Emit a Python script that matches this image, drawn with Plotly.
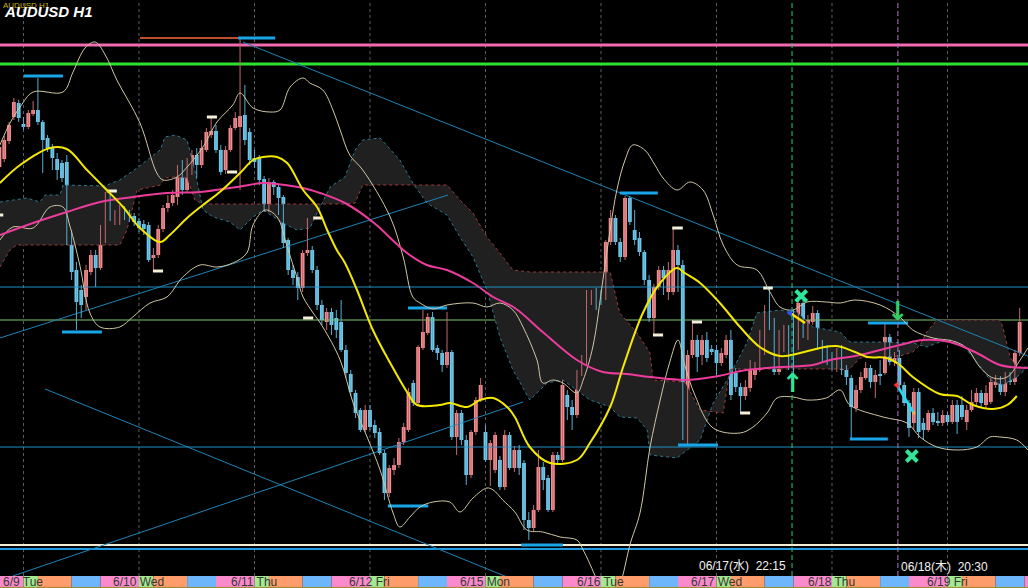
import plotly.graph_objects as go

PIP = 1e-4  # prices below are in pips (price * 10000)

# ---------------- candle data (H1, index 0 = 6/8 19:00) ----------------
OPEN = [
    6999.5, 7003.5, 7012.5, 7024.5, 7031.5, 7021, 7019.5, 7026, 7028, 7022,
    7014, 7009.5, 7003.5, 7001.5, 7002, 6964, 6948, 6938, 6934.5, 6947,
    6955.5, 6949, 6969, 6984.5, 6974.5, 6974, 6978, 6976.5, 6975, 6972.5,
    6971, 6970.5, 6954, 6955.5, 6968.5, 6979, 6981.5, 6984.5, 7000.5, 6988,
    7000.5, 7005.5, 7000.5, 7008, 7015.5, 7017.5, 7008, 6998, 7008, 7019,
    7019.5, 7025.5, 7017, 7004, 7004, 6993.5, 6979, 6992, 6989.5, 6984.5,
    6963, 6948, 6944.5, 6939, 6956.5, 6958, 6948, 6930.5, 6922, 6927,
    6924, 6922, 6908, 6896, 6886.5, 6878, 6868, 6878, 6870.5, 6867,
    6856.5, 6836.5, 6848, 6850.5, 6862, 6868, 6891.5, 6881.5, 6909, 6916.5,
    6924.5, 6909, 6906.5, 6900.5, 6907, 6864.5, 6876.5, 6863, 6845.5, 6867,
    6883, 6867, 6853, 6848, 6853, 6839.5, 6865.5, 6849, 6858, 6851.5,
    6823, 6819, 6828, 6849.5, 6844, 6828, 6855.5, 6853, 6885.5, 6879.5,
    6875.5, 6896.5, 6901.5, 6932, 6935.5, 6935.5, 6934, 6962, 6974, 6962,
    6954.5, 6984, 6968, 6964, 6957, 6943, 6924, 6939.5, 6948, 6937,
    6937, 6958, 6950.5, 6869.5, 6905.5, 6913, 6905.5, 6913, 6908.5, 6908,
    6901.5, 6905.5, 6913, 6896.5, 6889.5, 6885, 6889, 6895.5, 6898, 6907,
    6923, 6920.5, 6897, 6908, 6912, 6912, 6909, 6931.5, 6915.5, 6922,
    6926.5, 6909.5, 6908, 6904, 6902, 6906.5, 6898, 6894, 6879, 6888,
    6894, 6899, 6892, 6896, 6896.5, 6914.5, 6902, 6904, 6890.5, 6881.5,
    6871.5, 6887, 6871.5, 6868, 6876.5, 6872.5, 6871.5, 6875.5, 6872, 6880.5,
    6880.5, 6872, 6878, 6882, 6886.5, 6880.5, 6882, 6890.5, 6893, 6887,
    6894.5, 6892, 6906.5,
]
CLOSE = [
    7009.5, 7013, 7020.5, 7032, 7024, 7019.5, 7026.5, 7028, 7022, 7013,
    7009, 7004, 6998, 6994, 6963, 6947, 6932, 6930.5, 6948, 6955.5,
    6949, 6968.5, 6985.5, 6974, 6976.5, 6978, 6976.5, 6974, 6972, 6969,
    6968.5, 6953, 6955.5, 6968.5, 6979, 6981.5, 6985.5, 6998, 6988, 7002,
    7005.5, 7000.5, 7009, 7017, 7017.5, 7008, 6997, 7008, 7019, 7024,
    7025, 7013, 7003, 7002, 6993, 6979.5, 6992, 6989.5, 6984, 6961.5,
    6948, 6944, 6939, 6956.5, 6958, 6948, 6930.5, 6923, 6927, 6920.5,
    6918, 6908, 6896.5, 6887, 6876.5, 6868, 6878, 6869.5, 6866.5, 6856.5,
    6836.5, 6849, 6850.5, 6862, 6869.5, 6887, 6881.5, 6909.5, 6917, 6924.5,
    6908, 6906.5, 6900.5, 6907, 6864.5, 6876.5, 6863, 6845.5, 6867, 6883,
    6890.5, 6853, 6861.5, 6865.5, 6839.5, 6865.5, 6849, 6858, 6849, 6823,
    6819, 6828, 6849.5, 6843, 6828, 6855.5, 6853, 6890.5, 6879.5, 6875.5,
    6896.5, 6901.5, 6932, 6934.5, 6934, 6934, 6962, 6974, 6962, 6954.5,
    6984, 6972, 6963, 6957, 6943, 6924, 6939.5, 6948, 6944, 6948,
    6958, 6950.5, 6870.5, 6905.5, 6913, 6904.5, 6913, 6904, 6907, 6901.5,
    6906.5, 6913, 6885.5, 6889.5, 6885, 6889.5, 6899.5, 6899.5, 6914.5, 6923,
    6920.5, 6897, 6914, 6914.5, 6907, 6909, 6931.5, 6915.5, 6923, 6926.5,
    6909, 6904, 6903, 6902.5, 6906.5, 6898, 6894.5, 6879.5, 6888, 6894.5,
    6899, 6892, 6895.5, 6895, 6914.5, 6902, 6904, 6890.5, 6881.5, 6869,
    6887, 6867, 6868, 6876.5, 6872, 6871.5, 6875.5, 6872, 6880.5, 6872,
    6874.5, 6878, 6882, 6886.5, 6881.5, 6886.5, 6892, 6893, 6887, 6894.5,
    6892, 6906.5, 6922,
]
HIGH = [
    7011, 7015, 7022, 7034, 7033, 7024.5, 7028, 7032.5, 7044, 7023,
    7015.5, 7011, 7006.5, 7003, 7005.5, 6968, 6952, 6940.5, 6950.5, 6958,
    6958, 6970.5, 6987, 6986.5, 6978, 6980.5, 6980, 6978, 6976.5, 6974,
    6973, 6972, 6959, 6970.5, 6980.5, 6985.5, 6988, 7000.5, 7003, 7004,
    7008, 7009, 7013, 7019, 7024.5, 7020.5, 7010.5, 7010, 7020.5, 7027,
    7064, 7040.5, 7019, 7008, 7005.5, 6995, 6994, 6993, 6990.5, 6985.5,
    6964, 6950.5, 6947, 6958, 6974, 6960, 6950, 6933, 6929, 6929,
    6928, 6933, 6910.5, 6898, 6888, 6879, 6880.5, 6880.5, 6873, 6869,
    6858, 6850.5, 6854, 6864, 6871.5, 6889, 6893, 6910.5, 6928, 6926.5,
    6927, 6910.5, 6908, 6927, 6908, 6878, 6878, 6865.5, 6868, 6884.5,
    6894, 6870.5, 6863, 6867, 6855, 6868, 6867, 6860, 6860.5, 6853,
    6827, 6830.5, 6858, 6852, 6845.5, 6857, 6857, 6893, 6888, 6883,
    6898, 6905.5, 6938, 6938, 6939, 6938, 6963, 6978, 6975.5, 6964,
    6985, 6985, 6978, 6967, 6958, 6945.5, 6941, 6950, 6950, 6952,
    6969, 6960.5, 6953, 6908, 6923, 6915.5, 6915.5, 6917, 6910.5, 6910.5,
    6909, 6915.5, 6918, 6899, 6891.5, 6893, 6903, 6902, 6918, 6930.5,
    6939, 6924, 6918, 6920.5, 6920.5, 6928, 6934, 6933, 6925.5, 6930,
    6928, 6913, 6910.5, 6907, 6909, 6910.5, 6900.5, 6895.5, 6890.5, 6897,
    6902, 6900.5, 6898, 6903, 6921.5, 6916, 6907, 6908, 6892, 6883,
    6889, 6889, 6874, 6878, 6879, 6877, 6878, 6877, 6883, 6883,
    6885, 6880.5, 6888, 6889, 6888, 6890.5, 6894, 6895.5, 6895, 6897,
    6897, 6908, 6929,
]
LOW = [
    6998, 7002, 7011, 7023, 7022, 7018, 7018.5, 7025, 7020.5, 6996.5,
    7007, 6998, 6993, 6992, 6960.5, 6943, 6918, 6924, 6928, 6945.5,
    6939.5, 6948, 6961.5, 6972.5, 6970.5, 6970.5, 6973, 6972, 6970, 6967,
    6965.5, 6952, 6948, 6954, 6967, 6977, 6980, 6980.5, 6985.5, 6987,
    6995.5, 6994, 6999, 7007, 7014, 7006.5, 6995.5, 6996, 7007, 7018,
    6988, 7010.5, 7000.5, 6999, 6990.5, 6977, 6977, 6985.5, 6975.5, 6959,
    6945.5, 6940.5, 6933, 6937, 6955, 6946.5, 6928, 6920.5, 6918, 6915.5,
    6914, 6907, 6894, 6885, 6874, 6867, 6867, 6868, 6864, 6855.5,
    6833, 6834.5, 6845.5, 6849, 6860.5, 6867, 6880, 6880.5, 6908, 6915.5,
    6907, 6903, 6897, 6899, 6863, 6855.5, 6860.5, 6840.5, 6844, 6865.5,
    6882, 6852, 6840, 6846.5, 6838, 6838, 6848, 6847, 6845.5, 6818,
    6813, 6817, 6827, 6838, 6827, 6827, 6850.5, 6852, 6873, 6868,
    6874, 6895, 6900.5, 6930.5, 6928, 6930.5, 6933, 6960.5, 6960.5, 6952,
    6953, 6970.5, 6960.5, 6955, 6940.5, 6922, 6915.5, 6938, 6935.5, 6933,
    6935.5, 6937, 6863, 6860.5, 6904, 6897, 6900.5, 6902, 6905.5, 6895.5,
    6900, 6904, 6883, 6887, 6877, 6883, 6887, 6893, 6897, 6905.5,
    6918, 6895.5, 6895.5, 6907, 6898, 6890.5, 6908, 6914, 6913, 6920.5,
    6908, 6902, 6900.5, 6898, 6897, 6895.5, 6890.5, 6864, 6877, 6886.5,
    6893, 6889, 6884, 6890.5, 6895.5, 6900.5, 6900, 6888, 6880, 6864.5,
    6868, 6864, 6863, 6867, 6870.5, 6870, 6870, 6870.5, 6871, 6866,
    6873, 6868, 6877, 6880.5, 6879, 6879, 6881, 6889, 6885.5, 6885,
    6890.5, 6890.5, 6905,
]

# ---------------- indicator readings (x = candle index, y = pips) ----------------
MA_FAST_X = [0.1, 4.3, 10.5, 14, 18.2, 22.3, 25.7, 29.2, 33.4, 35.4, 39, 42.3, 45.8, 50, 52.7,
             54.8, 57.7, 59.8, 63.1, 66, 68.1, 70.1, 71.8, 74.3, 77.6, 81.2, 84.7, 86.8, 91.5,
             93.6, 97.2, 99.9, 102.6, 105.5, 107.1, 110.2, 114.4, 120, 122.7, 126.9, 129.6,
             133.7, 137.3, 140.8, 142.4, 145.6, 149.7, 153.9, 158, 162.2, 166.4, 170.5, 174,
             177.8, 180.3, 184.4, 187.1, 189.8, 195.4, 199, 202.3, 206.5, 209.4, 211.4]
MA_FAST = [6991.5, 7000.5, 7009, 7008.5, 6998, 6988, 6979.5, 6969, 6962, 6965.5, 6974, 6980.5,
           6987, 6996.5, 7003, 7004.5, 7004.5, 7001.5, 6988, 6979.5, 6968, 6958, 6951.5, 6938,
           6918, 6901.5, 6887, 6880.5, 6880.5, 6881.5, 6879.5, 6883, 6884, 6879.5, 6874.5,
           6859.5, 6851.5, 6853, 6861.5, 6879.5, 6899.5, 6926.5, 6941.5, 6949, 6946.5, 6941.5,
           6931.5, 6919.5, 6909.5, 6905, 6906.5, 6909, 6910, 6907, 6904.5, 6904, 6900.5,
           6894.5, 6886, 6885, 6880.5, 6878.5, 6880.5, 6885]

MA_SLOW_X = [0.1, 7, 14, 20.9, 27.7, 34.8, 41.7, 49.4, 54.8, 57.7, 63.1, 66.6, 71.8, 77.6, 84.7,
             88.8, 93, 98.4, 102.6, 107.1, 112.9, 120, 125.4, 130.4, 135.2, 142.4, 148.3, 155.3,
             162.2, 169, 172.6, 177.8, 187.1, 191.9, 197.5, 203.1, 207.9, 213.7]
MA_SLOW = [6965.5, 6971.5, 6977, 6982, 6984.5, 6986.5, 6987, 6989.5, 6991.5, 6991, 6989, 6986.5,
           6981.5, 6972, 6956.5, 6950.5, 6948, 6941.5, 6934.5, 6929, 6917, 6903, 6897, 6896,
           6894.5, 6893, 6894.5, 6898, 6899.5, 6900.5, 6903, 6905, 6910.5, 6913, 6912, 6906.5,
           6900.5, 6899]

BB_UPPER_X = [0.1, 2.2, 4.3, 7, 13.2, 15.3, 17.8, 19.9, 22, 24.4, 29.2, 32.7, 34, 36.9, 39, 42.3,
              45.2, 48.5, 50, 52.7, 56.2, 58.3, 60.4, 63.1, 64.5, 67.2, 69.3, 70.8, 72.8, 75.5,
              81.2, 83.9, 85.9, 87.4, 90.1, 93, 98.4, 101.3, 104, 106.7, 108.8, 111.7, 112.9,
              115, 117.1, 120, 121.3, 123.3, 125.4, 126.9, 128.3, 130, 131.6, 134.1, 136.2,
              137.9, 140.8, 143.5, 146.2, 148.3, 150.4, 153.3, 157.4, 160.1, 162.2, 164.9,
              167.8, 171.8, 174.7, 177.8, 183, 187.1, 189.8, 194, 198.1, 201, 203.7, 206.5,
              209.4, 212.1, 213.7]
BB_UPPER = [7010.5, 7021.5, 7029.5, 7037, 7037, 7047, 7059, 7062, 7055.5, 7043, 7021.5, 6996.5,
            6993, 6994.5, 6999.5, 7009.5, 7022, 7030.5, 7036.5, 7029, 7027, 7028, 7039.5, 7044,
            7041.5, 7038, 7028, 7018, 7005.5, 6998, 6974.5, 6954.5, 6934.5, 6931.5, 6928.5,
            6930.5, 6931.5, 6929.5, 6931.5, 6928, 6919.5, 6903, 6891.5, 6893, 6891.5, 6886.5,
            6893, 6909.5, 6943, 6968, 6988, 7003, 7010.5, 7008, 7000.5, 6994, 6988, 6992, 6988,
            6975.5, 6960.5, 6950.5, 6948, 6937, 6929.5, 6928, 6932, 6932, 6931.5, 6933, 6930.5,
            6924.5, 6918, 6914, 6912.5, 6909, 6899.5, 6894, 6894.5, 6903, 6909]

BB_LOWER_X = [0.1, 2.8, 7, 10.5, 13.2, 14.7, 16.7, 18.8, 20.9, 25, 27.7, 31.3, 34.8, 38.1, 41.7,
              45.2, 48.5, 51.4, 52.7, 55.2, 57.7, 59.8, 61.8, 63.1, 65.2, 67.2, 70.8, 73.5, 76.4,
              79.1, 81.8, 83.2, 85.3, 87.4, 90.1, 93.6, 95.7, 98.4, 101.3, 102.6, 104.6, 107.1,
              109.6, 112.9, 116.5, 120, 121.3, 123.7, 125.8, 127.9, 129.4, 131, 133.1, 135.2,
              137.3, 139.3, 141, 142.4, 144.5, 148.3, 153.9, 156.6, 159.5, 161.6, 164.9, 167.8,
              171.8, 174.7, 176.7, 183.6, 188.6, 191.3, 194.8, 199, 203.1, 205.8, 207.9, 211.4,
              213.7]
BB_LOWER = [6963, 6969.5, 6969, 6979.5, 6979.5, 6969.5, 6950.5, 6926.5, 6919.5, 6919.5, 6924.5,
            6931.5, 6934.5, 6944.5, 6950.5, 6949.5, 6951.5, 6956.5, 6970.5, 6978, 6974.5,
            6959.5, 6944.5, 6934.5, 6926.5, 6919.5, 6903, 6881.5, 6864.5, 6848, 6826.5, 6819.5,
            6824.5, 6829.5, 6832, 6832, 6827, 6834, 6839, 6838, 6833, 6827, 6818, 6817, 6814.5,
            6813, 6808, 6795.5, 6783, 6783, 6794, 6810.5, 6826.5, 6859.5, 6883, 6902, 6913,
            6900.5, 6885.5, 6869, 6866.5, 6869.5, 6876.5, 6884, 6884.5, 6883, 6884, 6888,
            6880.5, 6874.5, 6871.5, 6864.5, 6859.5, 6858, 6859.5, 6864.5, 6864.5, 6863, 6858]

SPAN_A_X = [0.1, 2.2, 3.6, 25, 26.5, 28.6, 30.7, 33.4, 34.4, 36.5, 39, 40.6, 42.3, 71.8, 73.9,
            75.5, 93, 95.7, 98.4, 101.3, 104, 106.7, 110.2, 126.9, 128.9, 132.5, 135.2, 135.8,
            142.4, 145.6, 150.4, 151.8, 176.7, 178.8, 187.1, 189.8, 191.3, 192.7, 194.8, 207.9,
            208.5, 210, 211.4, 213.7]
SPAN_A = [6949.5, 6958, 6960.5, 6960.5, 6968, 6988, 6989, 6990.5, 6994, 6994.5, 6994, 6983,
          6981, 6981, 6981.5, 6990.5, 6990.5, 6983, 6976.5, 6964.5, 6956.5, 6948, 6947, 6947,
          6926.5, 6916.5, 6906.5, 6893, 6892, 6878, 6876.5, 6898.5, 6898.5, 6904, 6905, 6907,
          6910.5, 6917, 6923, 6923, 6919.5, 6904.5, 6899.5, 6899.5]

SPAN_B_X = [0.1, 5.7, 8.4, 9.5, 12.6, 13.2, 21.9, 25, 26.5, 28.6, 30.7, 33.4, 34.4, 36.5, 39,
            40.6, 42.3, 44.4, 47.9, 50, 52.7, 54.8, 58.9, 61.8, 64.5, 68.7, 71.8, 73.9, 75.5,
            79.1, 83.2, 85.9, 88.8, 93, 95.7, 98.4, 101.3, 104, 106.7, 110.2, 113.8, 117.1,
            122.7, 126.9, 128.9, 132.5, 134.6, 135.2, 140.8, 145.6, 148.3, 151.2, 155.3, 157.4,
            162.2, 165.7, 169, 174.7, 176.7, 183, 189.8, 192.7, 194.8, 197.5, 200.2, 202.3,
            204.4, 205.8, 208.5, 211.4, 213.7]
SPAN_B = [6982, 6984, 6982, 6985.5, 6985.5, 6990.5, 6990, 6993, 6995.5, 6999, 7003, 7008,
          7014.5, 7015.5, 7013, 6998, 6978, 6974.5, 6972, 6968, 6974.5, 6978, 6971.5, 6968,
          6969, 6989.5, 6994.5, 7008, 7013, 7014, 7003, 6991.5, 6981.5, 6975.5, 6964.5,
          6954.5, 6938, 6914.5, 6898, 6883, 6891.5, 6893, 6883, 6879.5, 6874.5, 6874, 6868,
          6855.5, 6854, 6863, 6881.5, 6893, 6911.5, 6926.5, 6928, 6927, 6919.5, 6917, 6912,
          6912, 6911.5, 6909.5, 6911.5, 6913, 6910.5, 6904.5, 6898, 6893, 6890.5, 6894.5,
          6899.5]

# ---------------- horizontal levels (pips) ----------------
LEVEL_RESIST_PINK = 7060.5
LEVEL_RESIST_GREEN = 7051
LEVEL_MID_GREEN = 6923
LEVEL_BLUE = [6939.5, 6859.5]
LEVEL_FLOOR_CREAM = 6810.5
LEVEL_FLOOR_BLUE = 6808.5

# trend lines: (x0, y0, x1, y1) in candle index / pips
TRENDLINES = [
    (50.6, 7062, 213.7, 6905),
    (0.1, 6914, 93.2, 6985.5),
    (2.8, 6795, 108.8, 6882),
    (9.5, 6888.5, 105.5, 6794.5),
]

# swing markers: (x_start, x_end, level)
SWING_BLUE = [(5.1, 13.2, 7045), (13.0, 21.3, 6917), (49.6, 57.3, 7064), (80.7, 89.1, 6830),
              (84.9, 93.0, 6929), (108.4, 117.1, 6810.5), (128.9, 136.8, 6986.5),
              (141.0, 149.3, 6860.5), (176.7, 184.6, 6863.5), (180.5, 188.8, 6921.5)]
SWING_WHITE = [(0.1, 0.8, 6975.5), (22.3, 24.4, 6987.5), (31.9, 34.0, 6947.5),
               (43.1, 45.2, 7024.5), (47.3, 49.4, 6997), (63.1, 65.2, 6924), (65.2, 67.2, 6974),
               (135.8, 137.9, 6915.5), (139.8, 142.0, 6969), (143.9, 146.0, 6922),
               (153.9, 156.0, 6876.5), (158.7, 160.7, 6939)]
SWING_ORANGE = [(29.2, 52.1, 7064)]

# signals
EVENT_X = [164.7, 186.7]
EVENT_LABELS = ["06/17(水)  22:15", "06/18(木)  20:30"]
CROSS_X = [166.6, 189.6]
CROSS_Y = [6935, 6855]
UP_ARROW = (164.9, 6891.5)
DOWN_ARROW = (186.7, 6927.5)
YELLOW_SIG = ([164.3, 167.4], [6926.5, 6921.5])
CYAN_SIG = ([186.5, 190.0], [6890.5, 6876.5])

# date bar
DAY_STARTS = [5, 29, 53, 77, 101, 125, 149, 173, 197]
DAY_LABELS = ["6/9 Tue", "6/10 Wed", "6/11 Thu", "6/12 Fri", "6/15 Mon",
              "6/16 Tue", "6/17 Wed", "6/18 Thu", "6/19 Fri"]
SESSIONS = [(-8, 0), (0, 3), (3, 10), (10, 16)]  # hours relative to day start
SESSION_COLORS = ["#FA8ACB", "#A3E98F", "#FF9C6C", "#6DB6FC"]

# ---------------- build figure ----------------
def P(v):
    return [a * PIP for a in v]

X_LO, X_HI = 0.12, 213.73
XL, XR = -5, 220
BAR_H = 12 / 588

fig = go.Figure()

def hline(level, color, width):
    fig.add_trace(go.Scatter(x=[XL, XR], y=[level * PIP] * 2, mode="lines",
                             line=dict(color=color, width=width), hoverinfo="skip"))

hline(LEVEL_MID_GREEN, "#7CCB6A", 1)

# ichimoku cloud
fig.add_trace(go.Scatter(x=SPAN_B_X, y=P(SPAN_B), mode="lines",
                         line=dict(color="#2B7A93", width=1, dash="dot"), hoverinfo="skip"))
fig.add_trace(go.Scatter(x=SPAN_A_X, y=P(SPAN_A), mode="lines", fill="tonexty",
                         fillcolor="#202020",
                         line=dict(color="#A03A3A", width=1, dash="dot"), hoverinfo="skip"))

for lv in LEVEL_BLUE:
    hline(lv, "#1E8FC4", 1)
hline(LEVEL_RESIST_PINK, "#F26BB0", 3)
hline(LEVEL_RESIST_GREEN, "#2FE02F", 3)
hline(LEVEL_FLOOR_CREAM, "#F2ECD2", 2)
hline(LEVEL_FLOOR_BLUE, "#1E9BE0", 2)

for x0, y0, x1, y1 in TRENDLINES:
    fig.add_trace(go.Scatter(x=[x0, x1], y=[y0 * PIP, y1 * PIP], mode="lines",
                             line=dict(color="#1C84B6", width=1), hoverinfo="skip"))

def seg_trace(segs, color, width):
    xs, ys = [], []
    for a, b, lv in segs:
        xs += [a, b, None]
        ys += [lv * PIP, lv * PIP, None]
    fig.add_trace(go.Scatter(x=xs, y=ys, mode="lines", line=dict(color=color, width=width),
                             hoverinfo="skip"))

seg_trace(SWING_ORANGE, "#FF6A3D", 1.5)

# candles
idx = list(range(len(OPEN)))
assert len(OPEN) == len(CLOSE) == len(HIGH) == len(LOW)
up = [c >= o for o, c in zip(OPEN, CLOSE)]
for is_up, wick_col, body_col in [(True, "#C46A6E", "#F48C90"), (False, "#58AFD2", "#70C8E8")]:
    wx, wy, bx, bb, bh = [], [], [], [], []
    for i in idx:
        if up[i] != is_up:
            continue
        wx += [i, i, None]
        wy += [LOW[i] * PIP, HIGH[i] * PIP, None]
        lo = min(OPEN[i], CLOSE[i])
        hi = max(OPEN[i], CLOSE[i])
        bx.append(i)
        bb.append(lo * PIP)
        bh.append(max(hi - lo, 0.6) * PIP)
    fig.add_trace(go.Scatter(x=wx, y=wy, mode="lines", line=dict(color=wick_col, width=1),
                             hoverinfo="skip"))
    fig.add_trace(go.Bar(x=bx, y=bh, base=bb, width=0.8, marker=dict(color=body_col, line=dict(width=0)),
                         hoverinfo="skip"))

seg_trace(SWING_BLUE, "#18A6E8", 3)
seg_trace(SWING_WHITE, "#F4F0DA", 3)

# bollinger and moving averages
fig.add_trace(go.Scatter(x=BB_UPPER_X, y=P(BB_UPPER), mode="lines", line_shape="spline",
                         line=dict(color="#CFC6A4", width=1), hoverinfo="skip"))
fig.add_trace(go.Scatter(x=BB_LOWER_X, y=P(BB_LOWER), mode="lines", line_shape="spline",
                         line=dict(color="#CFC6A4", width=1), hoverinfo="skip"))
fig.add_trace(go.Scatter(x=MA_SLOW_X, y=P(MA_SLOW), mode="lines", line_shape="spline",
                         line=dict(color="#EC3C9C", width=2), hoverinfo="skip"))
fig.add_trace(go.Scatter(x=MA_FAST_X, y=P(MA_FAST), mode="lines", line_shape="spline",
                         line=dict(color="#F4E800", width=2), hoverinfo="skip"))

# signals
fig.add_trace(go.Scatter(x=YELLOW_SIG[0], y=P(YELLOW_SIG[1]), mode="lines",
                         line=dict(color="#FFE000", width=2.5), hoverinfo="skip"))
fig.add_trace(go.Scatter(x=[YELLOW_SIG[0][0]], y=[YELLOW_SIG[1][0] * PIP], mode="markers",
                         marker=dict(symbol="triangle-left", size=7, color="#2F4FFF"), hoverinfo="skip"))
fig.add_trace(go.Scatter(x=CYAN_SIG[0], y=P(CYAN_SIG[1]), mode="lines",
                         line=dict(color="#22DDF2", width=2.5), hoverinfo="skip"))
fig.add_trace(go.Scatter(x=[CYAN_SIG[0][0]], y=[CYAN_SIG[1][0] * PIP], mode="markers",
                         marker=dict(symbol="triangle-left", size=7, color="#FF3030"), hoverinfo="skip"))
fig.add_trace(go.Scatter(x=[CYAN_SIG[0][1]], y=[CYAN_SIG[1][1] * PIP], mode="markers",
                         marker=dict(symbol="square", size=3, color="#FFB040"), hoverinfo="skip"))
fig.add_trace(go.Scatter(x=CROSS_X, y=P(CROSS_Y), mode="markers",
                         marker=dict(symbol="x-thin", size=11, line=dict(color="#2FE59A", width=4)),
                         hoverinfo="skip"))

shapes = []
# day separators
for d in DAY_STARTS:
    shapes.append(dict(type="line", xref="x", yref="paper", x0=d, x1=d, y0=BAR_H, y1=1,
                       line=dict(color="#5E5E5E", width=1, dash="3px,3px"), layer="below"))
# event lines
shapes.append(dict(type="line", xref="x", yref="paper", x0=EVENT_X[0], x1=EVENT_X[0], y0=BAR_H, y1=1,
                   line=dict(color="#2BCB72", width=1, dash="5px,3px"), layer="above"))
shapes.append(dict(type="line", xref="x", yref="paper", x0=EVENT_X[1], x1=EVENT_X[1], y0=BAR_H, y1=1,
                   line=dict(color="#A77BC4", width=1, dash="5px,3px"), layer="above"))
# session bar
day_list = DAY_STARTS + [DAY_STARTS[-1] + 24]
for n, d in enumerate(day_list):
    for (a, b), col in zip(SESSIONS, SESSION_COLORS):
        if n == len(day_list) - 1 and a >= 0:
            continue
        shapes.append(dict(type="rect", xref="x", yref="paper", x0=d + a, x1=d + b,
                           y0=0, y1=BAR_H, fillcolor=col, line=dict(width=0), layer="above"))
shapes.append(dict(type="line", xref="paper", yref="paper", x0=0, x1=1, y0=0.001, y1=0.001,
                   line=dict(color="#9C8A2A", width=1), layer="above"))

annotations = []
for d, lab in zip(DAY_STARTS, DAY_LABELS):
    annotations.append(dict(x=d, y=BAR_H / 2, xref="x", yref="paper", text=lab, showarrow=False,
                            xanchor="center", yanchor="middle",
                            font=dict(family="Liberation Sans", size=12, color="#383838")))
annotations.append(dict(x=EVENT_X[0], y=22 / 588, xref="x", yref="paper", text=EVENT_LABELS[0],
                        showarrow=False, xanchor="right", yanchor="middle", xshift=-4,
                        font=dict(family="Liberation Sans, Noto Sans CJK JP", size=12, color="#F2F2F2")))
annotations.append(dict(x=EVENT_X[1], y=21 / 588, xref="x", yref="paper", text=EVENT_LABELS[1],
                        showarrow=False, xanchor="left", yanchor="middle", xshift=1,
                        font=dict(family="Liberation Sans, Noto Sans CJK JP", size=12, color="#F2F2F2")))
annotations.append(dict(x=UP_ARROW[0], y=UP_ARROW[1] * PIP, xref="x", yref="y", text="<b>↑</b>",
                        showarrow=False, font=dict(family="DejaVu Sans", size=26, color="#2FE59A")))
annotations.append(dict(x=DOWN_ARROW[0], y=DOWN_ARROW[1] * PIP, xref="x", yref="y", text="<b>↓</b>",
                        showarrow=False, font=dict(family="DejaVu Sans", size=26, color="#33CC66")))
annotations.append(dict(x=0, y=1, xref="paper", yref="paper", text="AUDUSD H1", showarrow=False,
                        xanchor="left", yanchor="top", xshift=1, yshift=1,
                        font=dict(family="Liberation Sans", size=8, color="#C9B400")))
annotations.append(dict(x=0, y=1, xref="paper", yref="paper", text="<b>AUDUSD H1</b>", showarrow=False,
                        xanchor="left", yanchor="top", xshift=2, yshift=-1,
                        font=dict(family="Liberation Sans", size=15,
                                  color="#FFFFFF", style="italic")))

fig.update_layout(
    width=1028, height=588, margin=dict(l=0, r=0, t=0, b=0),
    paper_bgcolor="#000000", plot_bgcolor="#000000",
    showlegend=False, barmode="overlay",
    xaxis=dict(range=[X_LO, X_HI], visible=False, showgrid=False, zeroline=False, fixedrange=True),
    yaxis=dict(range=[6795 * PIP, 7083 * PIP], domain=[BAR_H, 1], visible=False, showgrid=False,
               zeroline=False, fixedrange=True),
    shapes=shapes, annotations=annotations,
)

fig.write_html("out.html", config={"displayModeBar": False},
               post_script="document.body.style.margin='0';document.body.style.padding='0';"
                           "document.body.style.background='#000';")
